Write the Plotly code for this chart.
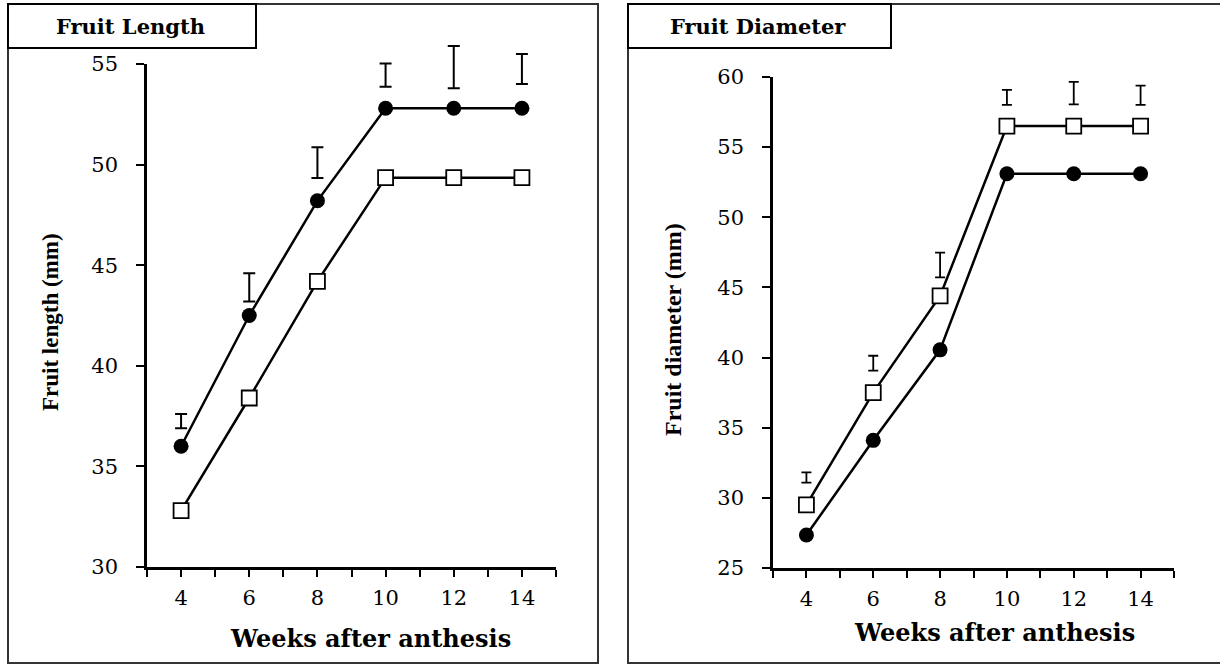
import plotly.graph_objects as go

W, H = 1220, 664

weeks = [4, 6, 8, 10, 12, 14]

# Fruit length (mm)
len_circle = [36.0, 42.5, 48.2, 52.8, 52.8, 52.8]
len_square = [32.8, 38.4, 44.2, 49.35, 49.35, 49.35]
len_lsd_center = [37.25, 43.9, 50.1, 54.45, 54.85, 54.75]
len_lsd_half = [0.35, 0.7, 0.76, 0.58, 1.05, 0.75]

# Fruit diameter (mm)
dia_circle = [27.35, 34.1, 40.55, 53.1, 53.1, 53.1]
dia_square = [29.5, 37.5, 44.4, 56.5, 56.5, 56.5]
dia_lsd_center = [31.45, 39.6, 46.6, 58.55, 58.85, 58.7]
dia_lsd_half = [0.36, 0.53, 0.88, 0.53, 0.8, 0.69]

x_ticks = list(range(3, 16))
x_ticktext = [str(v) if v % 2 == 0 and 4 <= v <= 14 else "" for v in x_ticks]

len_range = [30, 55]
dia_range = [25, 60]

SERIF = "DejaVu Serif"
SERIF_T = "Liberation Serif"


def px(x):
    return x / W


def py(y):
    return 1 - y / H


# pixel layout of the two plot areas
L_x0, L_x1, L_ybot, L_ytop = 147, 556, 567, 64
R_x0, R_x1, R_ybot, R_ytop = 773, 1174, 568, 77
EXT = 44  # extra headroom (px) for the LSD bars, drawn on hidden axes

fig = go.Figure()

line_style = dict(color="black", width=2.5)

# Left panel
fig.add_trace(go.Scatter(x=weeks, y=len_circle, mode="lines+markers", line=line_style,
                         marker=dict(symbol="circle", size=15, color="black"),
                         xaxis="x", yaxis="y", showlegend=False))
fig.add_trace(go.Scatter(x=weeks, y=len_square, mode="lines+markers", line=line_style,
                         marker=dict(symbol="square", size=15, color="white",
                                     line=dict(color="black", width=1.8)),
                         xaxis="x", yaxis="y", showlegend=False))
fig.add_trace(go.Scatter(x=weeks, y=len_lsd_center, mode="markers",
                         marker=dict(size=1, opacity=0),
                         error_y=dict(type="data", array=len_lsd_half, symmetric=True,
                                      color="black", thickness=2, width=6),
                         xaxis="x", yaxis="y3", showlegend=False))

# Right panel
fig.add_trace(go.Scatter(x=weeks, y=dia_circle, mode="lines+markers", line=line_style,
                         marker=dict(symbol="circle", size=15, color="black"),
                         xaxis="x2", yaxis="y2", showlegend=False))
fig.add_trace(go.Scatter(x=weeks, y=dia_square, mode="lines+markers", line=line_style,
                         marker=dict(symbol="square", size=15, color="white",
                                     line=dict(color="black", width=1.8)),
                         xaxis="x2", yaxis="y2", showlegend=False))
fig.add_trace(go.Scatter(x=weeks, y=dia_lsd_center, mode="markers",
                         marker=dict(size=1, opacity=0),
                         error_y=dict(type="data", array=dia_lsd_half, symmetric=True,
                                      color="black", thickness=1.8, width=5),
                         xaxis="x2", yaxis="y4", showlegend=False))

tickfont = dict(family=SERIF, size=21, color="black")

xaxis_common = dict(range=[3, 15], tickvals=x_ticks, ticktext=x_ticktext,
                    showline=True, linecolor="black", linewidth=2.5,
                    ticks="outside", ticklen=7, tickwidth=2, tickcolor="black",
                    showgrid=False, zeroline=False, tickfont=tickfont, fixedrange=True,
                    automargin=False, ticklabelstandoff=3)
yaxis_common = dict(showline=True, linecolor="black", linewidth=2.5,
                    ticks="outside", ticklen=8, tickwidth=2, tickcolor="black",
                    showgrid=False, zeroline=False, tickfont=tickfont, fixedrange=True,
                    automargin=False, ticklabelstandoff=14)
hidden_y = dict(visible=False, showgrid=False, zeroline=False, fixedrange=True, automargin=False)

ppu_L = (L_ybot - L_ytop) / (len_range[1] - len_range[0])
ppu_R = (R_ybot - R_ytop) / (dia_range[1] - dia_range[0])

fig.update_layout(
    width=W, height=H,
    margin=dict(l=0, r=0, t=0, b=0, pad=0, autoexpand=False),
    paper_bgcolor="white", plot_bgcolor="rgba(0,0,0,0)",
    xaxis=dict(domain=[px(L_x0), px(L_x1)], anchor="y", **xaxis_common),
    yaxis=dict(domain=[py(L_ybot), py(L_ytop)], anchor="x", range=len_range, dtick=5, **yaxis_common),
    xaxis2=dict(domain=[px(R_x0), px(R_x1)], anchor="y2", **xaxis_common),
    yaxis2=dict(domain=[py(R_ybot), py(R_ytop)], anchor="x2", range=dia_range, dtick=5, **yaxis_common),
    yaxis3=dict(domain=[py(L_ybot), py(L_ytop - EXT)], anchor="x",
                range=[len_range[0], len_range[1] + EXT / ppu_L], **hidden_y),
    yaxis4=dict(domain=[py(R_ybot), py(R_ytop - EXT)], anchor="x2",
                range=[dia_range[0], dia_range[1] + EXT / ppu_R], **hidden_y),
)

shapes = [
    # panel borders
    dict(type="rect", xref="paper", yref="paper", x0=px(8), x1=px(598), y0=py(663), y1=py(4),
         line=dict(color="#333333", width=2)),
    dict(type="rect", xref="paper", yref="paper", x0=px(628), x1=px(1230), y0=py(663), y1=py(4),
         line=dict(color="#333333", width=2)),
    # title boxes
    dict(type="rect", xref="paper", yref="paper", x0=px(8), x1=px(256), y0=py(48), y1=py(4),
         line=dict(color="black", width=2), fillcolor="white"),
    dict(type="rect", xref="paper", yref="paper", x0=px(628), x1=px(891), y0=py(48), y1=py(4),
         line=dict(color="black", width=2), fillcolor="white"),
]
fig.update_layout(shapes=shapes)

annotations = [
    dict(text="<b>Fruit Length</b>", x=px(130), y=py(27), xref="paper", yref="paper",
         showarrow=False, font=dict(family=SERIF, size=21, color="black"),
         xanchor="center", yanchor="middle"),
    dict(text="<b>Fruit Diameter</b>", x=px(758), y=py(27), xref="paper", yref="paper",
         showarrow=False, font=dict(family=SERIF, size=21, color="black"),
         xanchor="center", yanchor="middle"),
    dict(text="<b>Weeks after anthesis</b>", x=px(370), y=py(638), xref="paper", yref="paper",
         showarrow=False, font=dict(family=SERIF, size=24, color="black"),
         xanchor="center", yanchor="middle"),
    dict(text="<b>Weeks after anthesis</b>", x=px(994), y=py(632), xref="paper", yref="paper",
         showarrow=False, font=dict(family=SERIF, size=24, color="black"),
         xanchor="center", yanchor="middle"),
    dict(text="<b>Fruit length (mm)</b>", x=px(50), y=py(322), xref="paper", yref="paper",
         showarrow=False, textangle=-90, font=dict(family=SERIF_T, size=23, color="black"),
         xanchor="center", yanchor="middle"),
    dict(text="<b>Fruit diameter (mm)</b>", x=px(673), y=py(330), xref="paper", yref="paper",
         showarrow=False, textangle=-90, font=dict(family=SERIF_T, size=24, color="black"),
         xanchor="center", yanchor="middle"),
]
fig.update_layout(annotations=annotations)

fig.write_html("out.html")
